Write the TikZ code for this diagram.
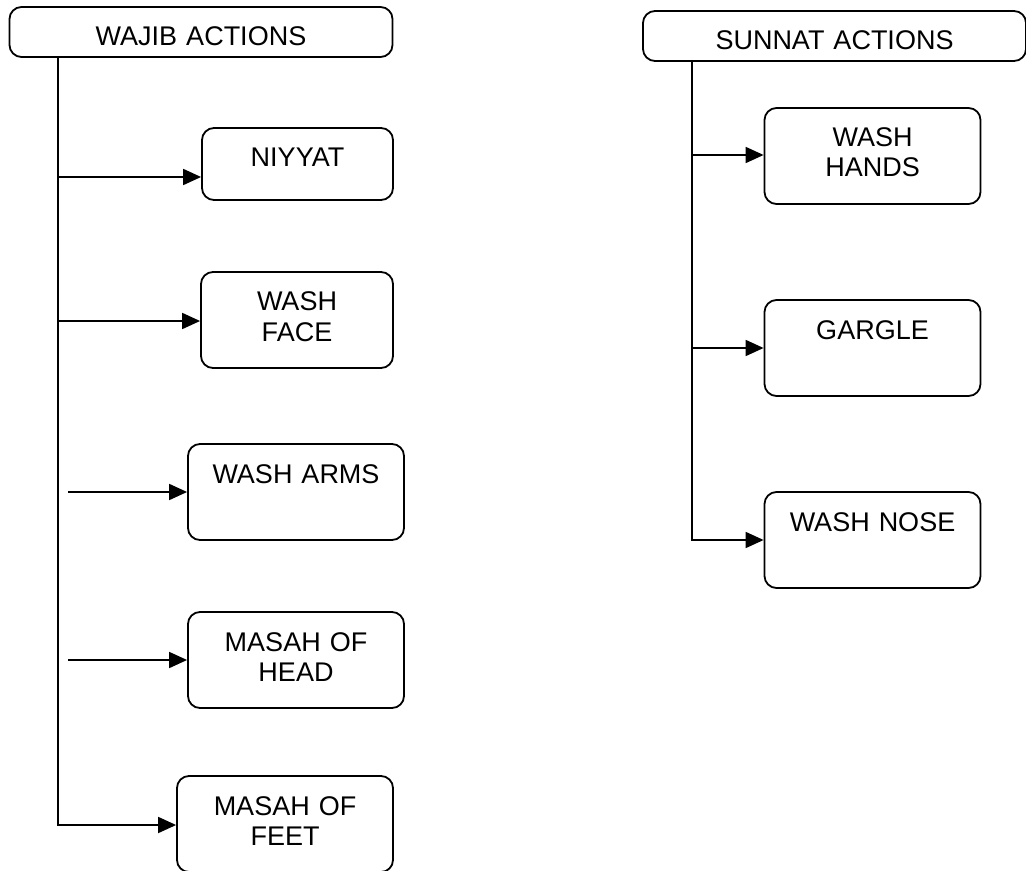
\documentclass[tikz,border=0pt]{standalone}
\usepackage{fontspec}
\setmainfont{Liberation Sans}
\usetikzlibrary{arrows.meta}

\begin{document}
\begin{tikzpicture}[x=0.5pt, y=-0.5pt, line width=0.9pt,
    box/.style={draw, rounded corners=6pt, inner sep=0pt, align=center,
      font=\fontsize{13.5}{15}\selectfont, text height=19.5pt, text depth=28.5pt},
    headbox/.style={box, text width=191.5pt, text depth=5.5pt},
    shortbox/.style={box, text width=95.5pt, text depth=16.5pt},
    narrowbox/.style={box, text width=96pt},
    widebox/.style={box, text width=108pt},
    arr/.style={-{Triangle[length=9pt,width=8pt]}}]
    \useasboundingbox (0,0) rectangle (1026,871);

    % headers
    \node[headbox] (wajib) at (201,32) {WAJIB ACTIONS};
    \node[headbox] (sunnat) at (834.5,36) {SUNNAT ACTIONS};

    % wajib actions
    \node[shortbox] (niyyat) at (297.5,164) {NIYYAT};
    \node[narrowbox] (face) at (297,320) {WASH\\FACE};
    \node[widebox] (arms) at (296,492) {WASH ARMS};
    \node[widebox] (head) at (296,660) {MASAH OF\\HEAD};
    \node[widebox] (feet) at (285,824) {MASAH OF\\FEET};

    % sunnat actions
    \node[widebox] (hands) at (872.5,156) {WASH\\HANDS};
    \node[widebox] (gargle) at (872.5,348) {GARGLE};
    \node[widebox] (nose) at (872.5,540) {WASH NOSE};

    \coordinate (w0) at (58,56);
    \coordinate (w1) at (58,177);
    \coordinate (w2) at (58,321);
    \coordinate (w3) at (68,492);
    \coordinate (w4) at (68,660);
    \coordinate (w5) at (58,825);
    \draw[arr] (w0) -- (w5) -- (w5 -| feet.west);
    \draw[arr] (w1) -- (w1 -| niyyat.west);
    \draw[arr] (w2) -- (w2 -| face.west);
    \draw[arr] (w3) -- (w3 -| arms.west);
    \draw[arr] (w4) -- (w4 -| head.west);

    \coordinate (s0) at (692,60);
    \coordinate (s1) at (692,155);
    \coordinate (s2) at (692,348);
    \coordinate (s3) at (692,540);
    \draw[arr] (s0) -- (s3) -- (s3 -| nose.west);
    \draw[arr] (s1) -- (s1 -| hands.west);
    \draw[arr] (s2) -- (s2 -| gargle.west);
\end{tikzpicture}
\end{document}
